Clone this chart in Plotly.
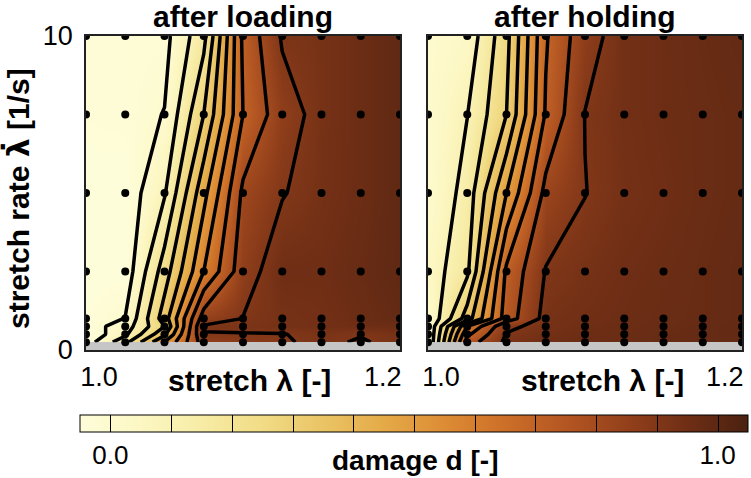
import plotly.graph_objects as go

# ---------------- data ----------------
stretch = [1.0, 1.025, 1.05, 1.075, 1.1, 1.125, 1.15, 1.175, 1.2]
rate = [0.25, 0.5, 0.75, 1.0, 2.5, 5.0, 7.5, 10.0]

# damage after loading (rows follow `rate`, columns follow `stretch`)
d_loading = [
    [-0.05, 0.17, 0.50, 0.85, 0.88, 0.89, 0.92, 0.89, 0.93],
    [-0.08, 0.08, 0.38, 0.895, 0.895, 0.897, 0.92, 0.905, 0.93],
    [-0.05, 0.05, 0.30, 0.91, 0.92, 0.93, 0.94, 0.95, 0.96],
    [-0.05, 0.003, 0.35, 0.85, 0.902, 0.93, 0.94, 0.96, 0.98],
    [-0.06, -0.06, 0.25, 0.60, 0.86, 0.95, 0.95, 0.97, 0.99],
    [-0.06, -0.06, 0.09, 0.47, 0.82, 0.895, 0.935, 0.96, 0.99],
    [-0.04, -0.035, 0.003, 0.30, 0.70, 0.86, 0.93, 0.96, 0.99],
    [-0.04, -0.035, -0.03, 0.17, 0.72, 0.91, 0.93, 0.96, 0.99],
]

# damage after holding
d_holding = [
    [0.0, 0.75, 0.92, 0.95, 0.96, 0.965, 0.97, 0.975, 0.98],
    [0.0, 0.68, 0.905, 0.94, 0.955, 0.96, 0.97, 0.975, 0.98],
    [0.0, 0.60, 0.88, 0.93, 0.95, 0.96, 0.965, 0.975, 0.98],
    [0.0, 0.35, 0.75, 0.93, 0.945, 0.955, 0.965, 0.97, 0.98],
    [0.04, 0.18, 0.72, 0.905, 0.93, 0.95, 0.96, 0.97, 0.98],
    [0.0, 0.14, 0.50, 0.83, 0.898, 0.935, 0.95, 0.965, 0.975],
    [0.0, 0.098, 0.30, 0.71, 0.902, 0.94, 0.955, 0.965, 0.975],
    [0.0, 0.035, 0.27, 0.69, 0.865, 0.94, 0.955, 0.97, 0.98],
]

panel_titles = ["after loading", "after holding"]
x_ticktext = ["1.0", "1.2"]
y_ticktext = ["0", "10"]
cbar_ticktext = ["0.0", "1.0"]

# ---------------- style ----------------
W, H = 751, 478
FONT = "Liberation Sans, Arial, Helvetica, sans-serif"
zmin, zmax = -0.05, 1.05
color_stops = [
    (-0.05, "#fefdd9"), (0.05, "#fcf7c3"), (0.15, "#f7eca6"), (0.25, "#f1dc86"),
    (0.35, "#eac465"), (0.45, "#e5aa48"), (0.55, "#dd8c35"), (0.65, "#cc6f28"),
    (0.75, "#b45622"), (0.85, "#93401b"), (0.95, "#6f2e15"), (1.05, "#4a2110"),
]
cscale = [[(v - zmin) / (zmax - zmin), c] for v, c in color_stops]

def px_x(p):
    return p / W

def px_y(p):
    return 1 - p / H

dom_x = [[px_x(86), px_x(400)], [px_x(428), px_x(742)]]
dom_y = [px_y(350), px_y(36)]

fig = go.Figure()

# thin-line copy that supplies the colour bar (lies under the real trace)
fig.add_trace(go.Contour(
    x=stretch, y=rate, z=d_loading, zmin=zmin, zmax=zmax, zauto=False,
    colorscale=cscale, autocontour=False,
    contours=dict(coloring="heatmap", start=0.0, end=1.0, size=0.1),
    line=dict(color="black", width=1, smoothing=0),
    showscale=True, hoverinfo="skip",
    colorbar=dict(
        orientation="h", x=px_x(414), xanchor="center",
        y=px_y(415), yanchor="top", len=668 / W, lenmode="fraction",
        thickness=17, thicknessmode="pixels", outlinecolor="black", outlinewidth=1,
        tickvals=[0.0, 1.0], ticktext=cbar_ticktext, ticks="",
        tickfont=dict(family=FONT, size=26, color="black"), xpad=0, ypad=0,
    ),
    xaxis="x", yaxis="y",
))

datasets = [d_loading, d_holding]
starts = [0.0, 0.1]
for i, z in enumerate(datasets):
    ax = "" if i == 0 else "2"
    fig.add_trace(go.Contour(
        x=stretch, y=rate, z=z, zmin=zmin, zmax=zmax, zauto=False,
        colorscale=cscale, autocontour=False,
        contours=dict(coloring="heatmap", start=starts[i], end=1.0, size=0.1),
        line=dict(color="black", width=3.5, smoothing=0), showscale=False,
        hoverinfo="skip", xaxis="x" + ax, yaxis="y" + ax,
    ))
    xs = [sx for r in rate for sx in stretch]
    ys = [r for r in rate for sx in stretch]
    fig.add_trace(go.Scatter(
        x=xs, y=ys, mode="markers",
        marker=dict(color="black", size=8), showlegend=False, hoverinfo="skip",
        cliponaxis=True, xaxis="x" + ax, yaxis="y" + ax,
    ))

axis_common = dict(showgrid=False, zeroline=False, showline=True, mirror=True,
                   linecolor="#222222", linewidth=1.5, ticks="", automargin=False,
                   tickfont=dict(family=FONT, size=27, color="black"))

fig.update_layout(
    width=W, height=H, margin=dict(l=0, r=0, t=0, b=0, autoexpand=False),
    paper_bgcolor="white", plot_bgcolor="#c6c6c6", showlegend=False,
    font=dict(family=FONT, color="black"),
    xaxis=dict(domain=dom_x[0], range=[1.0, 1.2], tickvals=[1.0083, 1.189],
               ticktext=x_ticktext, anchor="y", ticklabelstandoff=2, **axis_common),
    yaxis=dict(domain=dom_y, range=[0, 10], tickvals=[0, 10], ticktext=y_ticktext,
               anchor="x", ticklabelstandoff=6, **axis_common),
    xaxis2=dict(domain=dom_x[1], range=[1.0, 1.2], tickvals=[1.0083, 1.189],
                ticktext=x_ticktext, anchor="y2", ticklabelstandoff=2, **axis_common),
    yaxis2=dict(domain=dom_y, range=[0, 10], anchor="x2", showticklabels=False,
                **axis_common),
)

big = dict(family=FONT, size=30, color="black")
mid = dict(family=FONT, size=28, color="black")
anns = [
    dict(text="<b>%s</b>" % panel_titles[0], x=px_x(243), y=px_y(17), font=big),
    dict(text="<b>%s</b>" % panel_titles[1], x=px_x(585), y=px_y(17), font=big),
    dict(text="<b>stretch λ [-]</b>", x=px_x(249), y=px_y(380), font=big),
    dict(text="<b>stretch λ [-]</b>", x=px_x(602), y=px_y(380), font=big),
    dict(text="<b>damage d [-]</b>", x=px_x(415), y=px_y(460), font=mid),
    dict(text="<b>stretch rate <span style='font-family:DejaVu Sans'>λ\u0307</span> [1/s]</b>",
         x=px_x(18), y=px_y(199), textangle=-90, font=big),
]
for a in anns:
    fig.add_annotation(xref="paper", yref="paper", showarrow=False,
                       xanchor="center", yanchor="middle", **a)

fig.write_html("out.html", config={"displayModeBar": False},
               post_script="document.body.style.margin='0';document.body.style.overflow='hidden';")
